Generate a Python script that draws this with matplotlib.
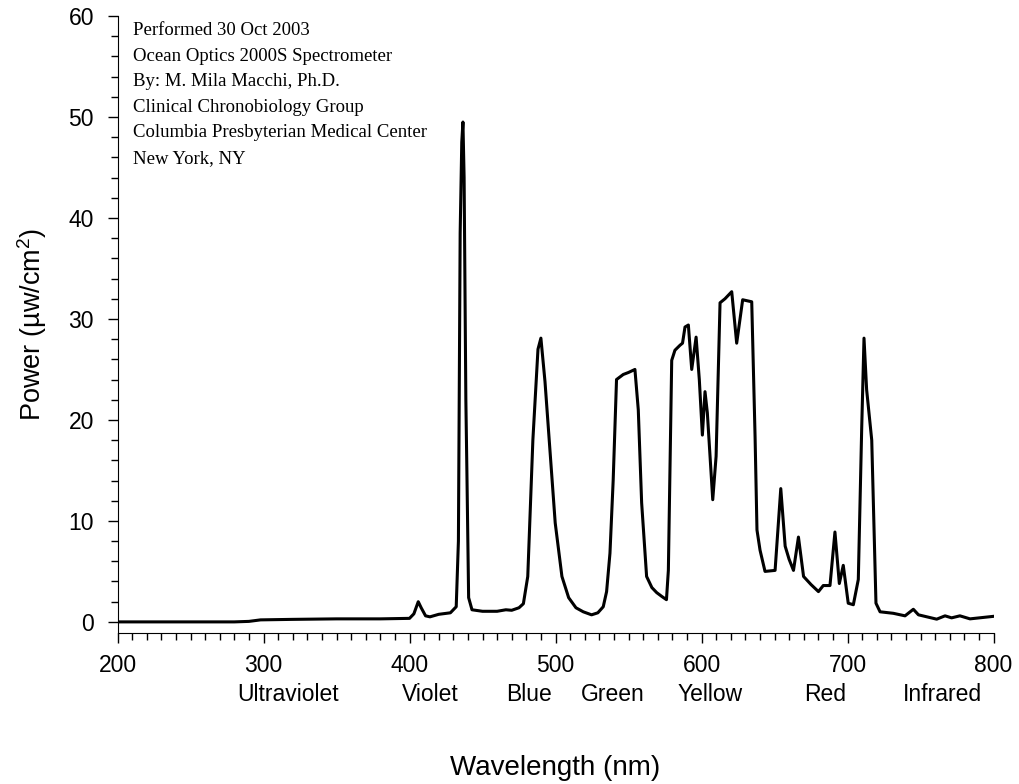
import matplotlib
matplotlib.use("Agg")
import matplotlib.pyplot as plt
from matplotlib.ticker import MultipleLocator

# spectrum (nm, uW/cm^2)
wavelength = [200, 280, 290, 298, 320, 350, 380, 400, 403, 406, 408, 411, 414, 420, 428,
              432, 433.5, 434.7, 435.8, 436.6, 437.4, 438.6, 439.3, 440.5, 442.8, 450, 460, 466,
              470, 475, 478, 481, 484.5, 488, 490, 492.8, 496.3, 499.8, 504.4, 509, 514,
              519, 524.7, 529, 532.7, 535, 537.3, 539.5, 541.8, 546.4, 550, 554.4, 556.7,
              559, 562.4, 566, 569.3, 573, 576, 577.3, 579.6, 581.8, 585.3, 587, 588.7,
              591, 593.3, 596.3, 598.5, 600.6, 602.4, 604, 607.7, 610, 612.7, 616.1,
              620.7, 624.1, 628.2, 634.4, 636.7, 638, 640.1, 643.5, 650.4, 654.3, 657.3,
              660, 663, 666.4, 669.9, 675, 680.1, 683.4, 688, 691.4, 694.4, 697.1, 700.5,
              704, 707.4, 709.7, 711.3, 713.1, 716.6, 719.5, 722.3, 731.4, 739.4, 745.1,
              748.6, 761.1, 766.8, 771.3, 777, 783.9, 800]
power = [0.0, 0.0, 0.05, 0.2, 0.25, 0.3, 0.3, 0.35, 0.8, 2.0, 1.4, 0.6, 0.5, 0.75, 0.9,
         1.5, 8.0, 38.5, 47.5, 49.5, 44.0, 22.0, 15.0, 2.4, 1.2, 1.05, 1.05, 1.2,
         1.15, 1.4, 1.8, 4.5, 18.0, 27.0, 28.1, 23.8, 16.8, 9.8, 4.5, 2.4, 1.4,
         1.0, 0.7, 0.9, 1.5, 3.0, 6.8, 14.0, 24.0, 24.5, 24.7, 25.0, 21.0,
         11.8, 4.5, 3.4, 2.9, 2.5, 2.2, 5.1, 25.9, 26.9, 27.4, 27.6, 29.2,
         29.4, 25.0, 28.2, 24.0, 18.5, 22.8, 20.7, 12.1, 16.4, 31.6, 32.0,
         32.7, 27.6, 31.9, 31.7, 18.3, 9.1, 7.1, 5.0, 5.1, 13.2, 7.5,
         6.2, 5.1, 8.4, 4.5, 3.7, 3.0, 3.6, 3.6, 8.9, 3.8, 5.6, 1.85,
         1.7, 4.2, 19.0, 28.1, 23.0, 18.0, 1.85, 1.0, 0.85, 0.6, 1.25,
         0.7, 0.27, 0.6, 0.4, 0.6, 0.3, 0.55]

band_names = ["Ultraviolet", "Violet", "Blue", "Green", "Yellow", "Red", "Infrared"]
band_pos = [317, 414, 482, 539, 606, 685, 765]

notes = ["Performed 30 Oct 2003",
         "Ocean Optics 2000S Spectrometer",
         "By: M. Mila Macchi, Ph.D.",
         "Clinical Chronobiology Group",
         "Columbia Presbyterian Medical Center",
         "New York, NY"]

plt.rcParams['font.family'] = ['Liberation Sans', 'DejaVu Sans']
plt.rcParams['mathtext.fontset'] = 'custom'
plt.rcParams['mathtext.rm'] = 'Liberation Sans'

fig = plt.figure(figsize=(10.19, 7.84), dpi=100)
ax = fig.add_axes([117.5 / 1019, 1 - 633 / 784, 876 / 1019, 617 / 784])

ax.plot(wavelength, power, color='black', lw=2.2, solid_joinstyle='round')

ax.set_xlim(200, 800)
ax.set_ylim(-1.1, 60)
ax.xaxis.set_major_locator(MultipleLocator(100))
ax.xaxis.set_minor_locator(MultipleLocator(10))
ax.yaxis.set_major_locator(MultipleLocator(10))
ax.yaxis.set_minor_locator(MultipleLocator(2))
ax.tick_params(which='major', direction='out', length=7, width=1.0, labelsize=16.5)
ax.tick_params(axis='x', which='major', pad=8)
ax.tick_params(axis='y', which='major', pad=10)
ax.tick_params(which='minor', direction='out', length=5, width=1.0)
for s in ['top', 'right']:
    ax.spines[s].set_visible(False)

for name, x in zip(band_names, band_pos):
    ax.text(x, -0.1, name, transform=ax.get_xaxis_transform(), ha='center', va='center',
            fontsize=16.5)

ax.set_xlabel('Wavelength (nm)', fontsize=20, labelpad=56)
ax.set_ylabel('Power (µw/cm$^2$)', fontsize=19.5, labelpad=14)

for i, line in enumerate(notes):
    ax.text(0.018, 0.976 - i * 0.0413, line, transform=ax.transAxes, ha='left', va='center',
            fontsize=13.5, family='Liberation Serif')

fig.savefig('out.png', dpi=100)
